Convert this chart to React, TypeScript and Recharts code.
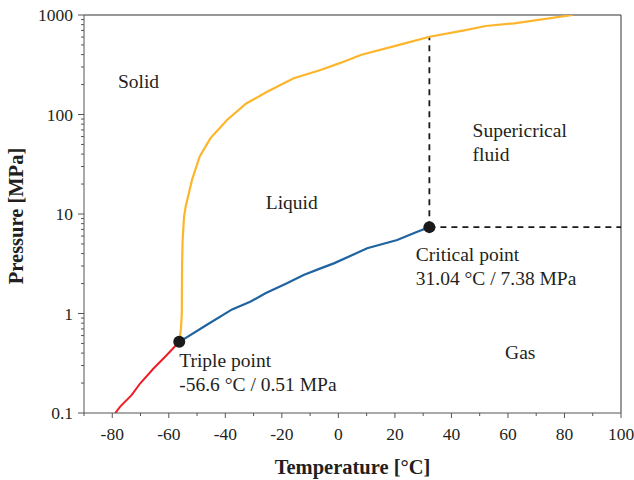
import React from 'react';
import { LineChart, Line, XAxis, YAxis, ReferenceDot, ReferenceLine, Label } from 'recharts';

// Sublimation curve (solid-gas)
const sublimationT = [-78.9, -77.2, -73.1, -70.1, -65.4, -60.7, -56.3];
const sublimationP = [0.1, 0.116, 0.152, 0.199, 0.28, 0.383, 0.52];

// Vaporisation curve (liquid-gas)
const vaporT = [-56.3, -54.8, -46.5, -37.6, -31.2, -25.8, -18.2, -12.3, -6.3, -1.6, 10.2, 20.8, 27.7, 32.2];
const vaporP = [0.52, 0.55, 0.77, 1.1, 1.31, 1.6, 2.01, 2.44, 2.84, 3.19, 4.52, 5.48, 6.6, 7.38];

// Melting curve (solid-liquid)
const meltT = [-56.3, -55.7, -55.4, -55.3, -55.1, -54.6, -54.0, -51.8, -49.1, -45.3, -39.4, -32.6, -25.2, -15.8, -6.3, 0.7, 7.9, 22.5, 32.3, 45, 52.1, 62.2, 82.9];
const meltP = [0.52, 0.7, 1.0, 3.0, 5.5, 9.4, 12, 22, 37.6, 57.6, 88, 129, 169, 231, 280, 330, 396, 510, 605, 706, 775, 825, 1000];

// Critical isotherm / isobar (dashed)
const critVertT = [32.2, 32.2];
const critVertP = [7.38, 605];
const critHorT = [32.2, 100];
const critHorP = [7.38, 7.38];

// Special points (as drawn)
const triplePoint = { t: -56.3, p: 0.52 };
const criticalPoint = { t: 32.2, p: 7.38 };

// Region / point annotations (anchor in data coordinates)
const annotationLines = [
  ['Solid'],
  ['Liquid'],
  ['Supericrical', 'fluid'],
  ['Critical point', '31.04 \u00B0C / 7.38 MPa'],
  ['Triple point', '-56.6 \u00B0C / 0.51 MPa'],
  ['Gas'],
];
const annotationT = [-78.0, -25.7, 47.5, 27.4, -56.3, 59.0];
const annotationP = [184.6, 11.2, 59, 3.4, 0.292, 0.349];

// Axis ticks
const xTicks = [-90, -80, -70, -60, -50, -40, -30, -20, -10, 0, 10, 20, 30, 40, 50, 60, 70, 80, 90, 100];
const xLabeled = [-80, -60, -40, -20, 0, 20, 40, 60, 80, 100];
const yTicks = [
  0.1, 0.2, 0.3, 0.4, 0.5, 0.6, 0.7, 0.8, 0.9,
  1, 2, 3, 4, 5, 6, 7, 8, 9,
  10, 20, 30, 40, 50, 60, 70, 80, 90,
  100, 200, 300, 400, 500, 600, 700, 800, 900,
  1000,
];
const yLabeled = [0.1, 1, 10, 100, 1000];
const yLabelText = ['0.1', '1', '10', '100', '1000'];

const zip = (ts: number[], ps: number[]) => ts.map((t, i) => ({ t, p: ps[i] }));
const sublimation = zip(sublimationT, sublimationP);
const vapor = zip(vaporT, vaporP);
const melt = zip(meltT, meltP);
const critVert = zip(critVertT, critVertP);
const critHor = zip(critHorT, critHorP);

const FONT = '"Liberation Serif", "Times New Roman", serif';
const TEXT = '#231f20';
const AXIS = '#555555';

function XTick(props: any) {
  const { x, y, payload } = props;
  const v = payload.value;
  const major = xLabeled.includes(v);
  return (
    <g>
      <line x1={x} x2={x} y1={y} y2={y + (major ? 5 : 3)} stroke={AXIS} strokeWidth={1} />
      {major && (
        <text x={x} y={y + 27} textAnchor="middle" fontSize={17.5} fill={TEXT} fontFamily={FONT}>
          {String(v)}
        </text>
      )}
    </g>
  );
}

function YTick(props: any) {
  const { x, y, payload } = props;
  const v = payload.value;
  const idx = yLabeled.findIndex((m) => Math.abs(m - v) < 1e-9);
  const major = idx >= 0;
  return (
    <g>
      <line x1={x - (major ? 6 : 3)} x2={x} y1={y} y2={y} stroke={AXIS} strokeWidth={1} />
      {major && (
        <text x={x - 11} y={y} dy="0.35em" textAnchor="end" fontSize={17.5} fill={TEXT} fontFamily={FONT}>
          {yLabelText[idx]}
        </text>
      )}
    </g>
  );
}

function makeAnnotation(lines: string[]) {
  return (props: any) => {
    const vb = props.viewBox || {};
    const x = vb.x + (vb.width || 0) / 2;
    const y = vb.y + (vb.height || 0) / 2;
    return (
      <text x={x} y={y} fontSize={19.5} fill={TEXT} fontFamily={FONT} textAnchor="start">
        {lines.map((s, i) => (
          <tspan key={i} x={x} dy={i === 0 ? 0 : 24}>
            {s}
          </tspan>
        ))}
      </text>
    );
  };
}

export default function App() {
  return (
    <div style={{ position: 'absolute', left: 0, top: 0, width: 634, height: 480 }}>
      <LineChart width={634} height={480} margin={{ top: 15, right: 13, left: 0, bottom: 0 }}>
        <XAxis
          dataKey="t"
          type="number"
          domain={[-90, 100]}
          allowDataOverflow
          ticks={xTicks}
          interval={0}
          tick={<XTick />}
          tickLine={false}
          tickSize={0}
          tickMargin={0}
          height={67}
          axisLine={{ stroke: AXIS, strokeWidth: 1 }}
        >
          <Label
            content={(p: any) => {
              const vb = p.viewBox;
              return (
                <text
                  x={vb.x + vb.width / 2}
                  y={vb.y + 61}
                  textAnchor="middle"
                  fontSize={20.5}
                  fontWeight="bold"
                  fill={TEXT}
                  fontFamily={FONT}
                >
                  Temperature [°C]
                </text>
              );
            }}
          />
        </XAxis>
        <YAxis
          dataKey="p"
          type="number"
          scale="log"
          domain={[0.1, 1000]}
          allowDataOverflow
          ticks={yTicks}
          interval={0}
          tick={<YTick />}
          tickLine={false}
          tickSize={0}
          tickMargin={0}
          width={84}
          axisLine={{ stroke: AXIS, strokeWidth: 1 }}
        >
          <Label
            content={(p: any) => {
              const vb = p.viewBox;
              const cx = vb.x + 23;
              const cy = vb.y + vb.height / 2 + 2;
              return (
                <text
                  x={cx}
                  y={cy}
                  transform={`rotate(-90, ${cx}, ${cy})`}
                  textAnchor="middle"
                  fontSize={20.5}
                  fontWeight="bold"
                  fill={TEXT}
                  fontFamily={FONT}
                >
                  Pressure [MPa]
                </text>
              );
            }}
          />
        </YAxis>
        <ReferenceLine y={1000} stroke="#333333" strokeWidth={1} />
        <ReferenceLine x={100} stroke="#333333" strokeWidth={1} />

        <Line data={critVert} dataKey="p" stroke="#1a1a1a" strokeWidth={1.8} strokeDasharray="6 5" dot={false} isAnimationActive={false} type="linear" />
        <Line data={critHor} dataKey="p" stroke="#1a1a1a" strokeWidth={1.8} strokeDasharray="6 5" dot={false} isAnimationActive={false} type="linear" />
        <Line data={sublimation} dataKey="p" stroke="#EE1C24" strokeWidth={2} dot={false} isAnimationActive={false} type="linear" />
        <Line data={vapor} dataKey="p" stroke="#1F63A0" strokeWidth={2.2} dot={false} isAnimationActive={false} type="linear" />
        <Line data={melt} dataKey="p" stroke="#FDB52B" strokeWidth={2.2} dot={false} isAnimationActive={false} type="linear" />

        <ReferenceDot x={triplePoint.t} y={triplePoint.p} r={6} fill="#1a1a1a" stroke="none" />
        <ReferenceDot x={criticalPoint.t} y={criticalPoint.p} r={6} fill="#1a1a1a" stroke="none" />

        {annotationLines.map((lines, i) => (
          <ReferenceDot
            key={`a${i}`}
            x={annotationT[i]}
            y={annotationP[i]}
            r={0}
            fill="none"
            stroke="none"
            label={makeAnnotation(lines)}
          />
        ))}
      </LineChart>
    </div>
  );
}
